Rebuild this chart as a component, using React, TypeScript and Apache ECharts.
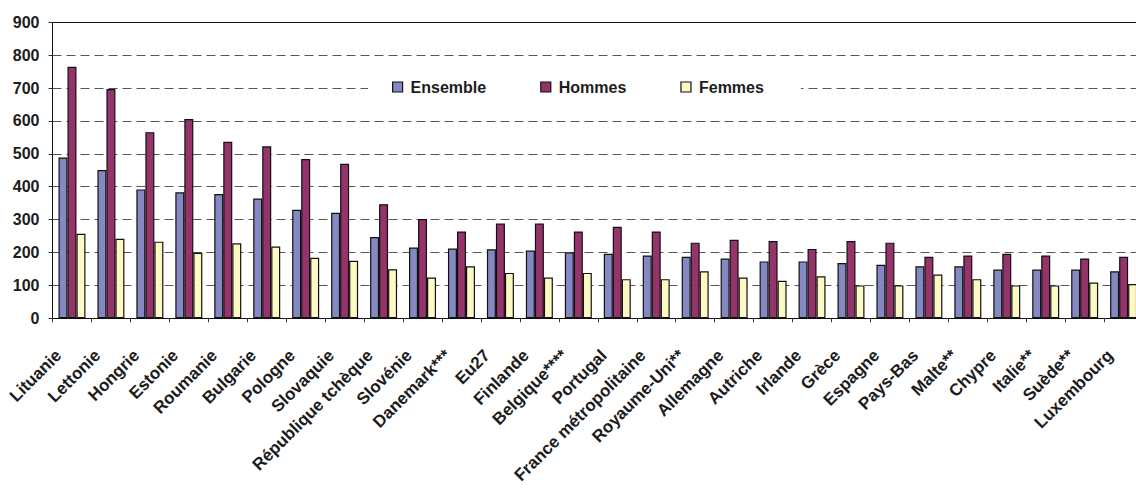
import React, { useEffect, useRef } from "react";
import * as echarts from "echarts";

const categories = [
  "Lituanie", "Lettonie", "Hongrie", "Estonie", "Roumanie", "Bulgarie", "Pologne",
  "Slovaquie", "République tchèque", "Slovénie", "Danemark***", "Eu27", "Finlande",
  "Belgique****", "Portugal", "France métropolitaine", "Royaume-Uni**", "Allemagne",
  "Autriche", "Irlande", "Grèce", "Espagne", "Pays-Bas", "Malte**", "Chypre",
  "Italie**", "Suède**", "Luxembourg",
];

const ensemble = [489, 451, 392, 383, 378, 364, 330, 321, 247, 215, 212, 210, 206, 201, 196, 191, 187, 182, 173, 173, 168, 163, 158, 158, 148, 148, 148, 143];
const hommes = [765, 697, 566, 606, 537, 523, 484, 470, 347, 302, 264, 288, 288, 264, 278, 264, 230, 239, 235, 211, 235, 230, 187, 191, 196, 191, 182, 187];
const femmes = [257, 242, 233, 199, 228, 218, 184, 175, 149, 124, 158, 138, 124, 138, 119, 119, 143, 124, 114, 128, 100, 100, 133, 119, 100, 100, 109, 104];

const yTicks = [0, 900, 100];

const FONT = "'Liberation Sans', Arial, sans-serif";
const TEXT = "#1c1c1c";

export default function App() {
  const ref = useRef<HTMLDivElement>(null);
  useEffect(() => {
    if (!ref.current) return;
    const chart = echarts.init(ref.current, undefined, { renderer: "svg" });
    const barStyle = (color: string) => ({
      color,
      borderColor: "#111",
      borderWidth: 1.2,
    });
    chart.setOption({
      animation: false,
      backgroundColor: "#fff",
      textStyle: { fontFamily: FONT },
      grid: {
        left: 52.5,
        top: 22.3,
        height: 296,
        width: 28 * 38.95,
        containLabel: false,
        outerBoundsMode: "none",
      },
      legend: {
        left: 368,
        top: 73,
        padding: [6, 37, 6, 24],
        itemGap: 54,
        itemWidth: 10,
        itemHeight: 10,
        backgroundColor: "#fff",
        textStyle: { fontFamily: FONT, fontWeight: "bold", fontSize: 16, color: TEXT, padding: [0, 0, 0, 3] },
        data: [
          { name: "Ensemble", icon: "rect", itemStyle: { color: "#8589C3", borderColor: "#111", borderWidth: 1.2 } },
          { name: "Hommes", icon: "rect", itemStyle: { color: "#95336A", borderColor: "#111", borderWidth: 1.2 } },
          { name: "Femmes", icon: "rect", itemStyle: { color: "#FEF8C4", borderColor: "#111", borderWidth: 1.2 } },
        ],
      },
      xAxis: [
        {
          type: "category",
          data: categories,
          position: "bottom",
          axisLine: { show: true, lineStyle: { color: "#111", width: 1 } },
          axisTick: { show: true, interval: 0, length: 4, lineStyle: { color: "#333" } },
          axisLabel: {
            interval: 0,
            rotate: 45,
            margin: 21,
            padding: [0, 19, 0, 0],
            fontFamily: FONT,
            fontWeight: "bold",
            fontSize: 17,
            color: TEXT,
          },
        },
        {
          type: "category",
          data: categories,
          position: "top",
          axisLine: { show: true, lineStyle: { color: "#111", width: 1 } },
          axisTick: { show: false },
          axisLabel: { show: false },
        },
      ],
      yAxis: {
        type: "value",
        min: yTicks[0],
        max: yTicks[1],
        interval: yTicks[2],
        axisLine: { show: true, lineStyle: { color: "#111", width: 1 } },
        axisTick: { show: true, length: 4, lineStyle: { color: "#333" } },
        axisLabel: {
          margin: 13,
          fontFamily: FONT,
          fontWeight: "bold",
          fontSize: 16,
          color: TEXT,
        },
        splitLine: {
          show: true,
          lineStyle: { color: "#555", width: 1, type: [9, 5] },
        },
      },
      series: [
        { name: "Ensemble", type: "bar", data: ensemble, barWidth: 9, barGap: "0%", itemStyle: barStyle("#8589C3") },
        { name: "Hommes", type: "bar", data: hommes, barWidth: 9, barGap: "0%", itemStyle: barStyle("#95336A") },
        { name: "Femmes", type: "bar", data: femmes, barWidth: 9, barGap: "0%", itemStyle: barStyle("#FEF8C4") },
      ],
    });
    return () => chart.dispose();
  }, []);
  return (
    <div
      ref={ref}
      style={{ position: "fixed", left: 0, top: 0, width: 1136, height: 488, background: "#fff" }}
    />
  );
}
